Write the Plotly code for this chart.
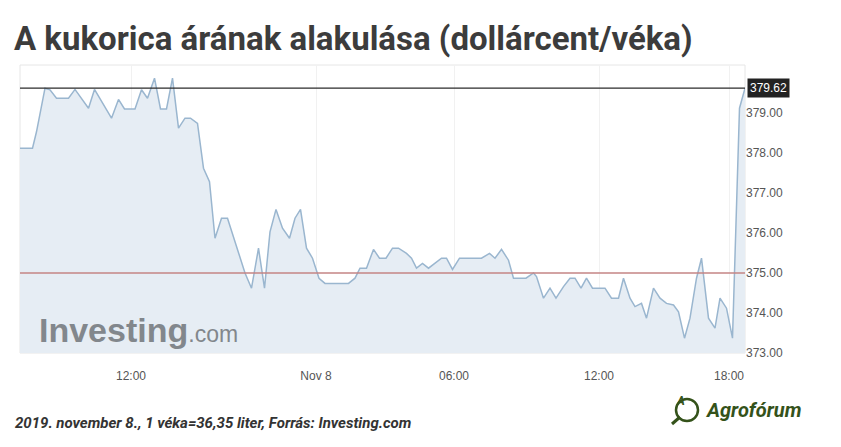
import plotly.graph_objects as go

# time index (sample units along the trading-time axis) and price values
t = [0, 2.5, 3.3, 5, 6, 7.3, 9.7, 11, 13.7, 14.9, 18.3, 19.7, 20.9, 23, 24.3, 25.5,
     26.9, 28.1, 29.3, 30.5, 31.7, 33, 34.1, 35.5, 36.7, 37.9, 39, 40.3, 41.5, 45,
     46.3, 47.7, 48.9, 50, 51.2, 52.5, 53.9, 55, 56.1, 57.3, 58.5, 59.8, 61, 65.7,
     67, 68, 69.3, 70.7, 71.9, 73.2, 74.5, 75.7, 77.3, 78.3, 79.3, 80.5, 81.7, 83,
     84.3, 85.3, 86.5, 87.9, 92.3, 93.9, 95, 96.3, 97.7, 98.7, 101.2, 102.7, 103.3,
     104.7, 106, 107.2, 108.7, 110, 111, 112.2, 113.3, 114.5, 117, 118.3, 119.7,
     120.7, 122, 123, 124.3, 125.3, 126.7, 128, 129.3, 130.7, 131.7, 132.9, 134,
     135.3, 136.3, 137.7, 139, 140, 141.3, 142.5, 143.9, 145]
price = [378.12, 378.12, 378.53, 379.62, 379.58, 379.37, 379.37, 379.59, 379.12, 379.59,
         378.87, 379.34, 379.10, 379.10, 379.58, 379.37, 379.87, 379.10, 379.10, 379.87,
         378.62, 378.87, 378.87, 378.74, 377.62, 377.28, 375.87, 376.37, 376.37, 375.00,
         374.62, 375.62, 374.62, 376.03, 376.59, 376.12, 375.87, 376.37, 376.59, 375.62,
         375.37, 374.87, 374.74, 374.74, 374.87, 375.12, 375.12, 375.59, 375.37, 375.37,
         375.62, 375.62, 375.49, 375.37, 375.12, 375.24, 375.12, 375.24, 375.37, 375.37,
         375.09, 375.37, 375.37, 375.49, 375.37, 375.59, 375.32, 374.87, 374.87, 375.00,
         374.91, 374.37, 374.62, 374.37, 374.66, 374.87, 374.87, 374.62, 374.87, 374.62,
         374.62, 374.37, 374.37, 374.87, 374.37, 374.16, 374.24, 373.87, 374.62, 374.37,
         374.24, 374.20, 374.03, 373.37, 373.87, 374.87, 375.37, 373.87, 373.62, 374.37,
         374.12, 373.37, 379.12, 379.62]

tick_pos = [22.2, 59.2, 86.8, 115.8, 141.8]
tick_labels = ["12:00", "Nov 8", "06:00", "12:00", "18:00"]
y_ticks = [373, 374, 375, 376, 377, 378, 379]
last_price = 379.62
ref_price = 375.00

title_text = "A kukorica árának alakulása (dollárcent/véka)"
footer_text = "2019. november 8., 1 véka=36,35 liter, Forrás: Investing.com"

# page has an 8px body margin; figure is sized/offset to compensate
FW, FH, OFF = 833, 439, 8
PL, PR, PT, PB = 20, 745, 65, 353  # plot area in page pixels


def px(xp):
    return (xp - PL) / (PR - PL)


def py(yp):
    return (PB - yp) / (PB - PT)


fig = go.Figure()
fig.add_trace(go.Scatter(
    x=t, y=price, mode="lines",
    line=dict(color="#9ab6cf", width=1.5),
    fill="tozeroy", fillcolor="#e6edf4",
    hoverinfo="skip", showlegend=False,
))

fig.add_hline(y=last_price, line=dict(color="#2b2b2b", width=1.3))
fig.add_hline(y=ref_price, line=dict(color="#c48585", width=1.3))

# plot border
fig.add_shape(type="rect", xref="paper", yref="paper", x0=0, x1=1, y0=0, y1=1,
              line=dict(color="#e6e6e6", width=1), layer="below")

# last price label
fig.add_annotation(x=1, xref="paper", y=last_price, yref="y", xanchor="left",
                   text=f"{last_price:.2f}", showarrow=False,
                   bgcolor="#222222", font=dict(color="white", size=12, family="Arial"),
                   borderpad=2, xshift=2)

# Investing.com watermark
fig.add_annotation(x=px(37), xref="paper", y=py(330), yref="paper", xanchor="left", yanchor="middle",
                   text="<b>Investing</b><span style='font-size:23px'>.com</span>",
                   showarrow=False,
                   font=dict(color="#82878c", size=34, family="Arial"))

fig.update_layout(
    width=FW, height=FH,
    margin=dict(l=PL - OFF, r=FW - (PR - OFF), t=PT - OFF, b=FH - (PB - OFF)),
    paper_bgcolor="white", plot_bgcolor="white",
    title=dict(text=f"<b>{title_text}</b>", x=(14 - OFF) / FW, xanchor="left",
               y=1 - (38 - OFF) / FH, yanchor="middle",
               font=dict(family="Roboto", size=33, color="#3c3c3c")),
    xaxis=dict(range=[0, 145], tickvals=tick_pos, ticktext=tick_labels,
               showgrid=True, gridcolor="#f1f1f1", zeroline=False, showline=False,
               ticks="", ticklabelstandoff=14,
               tickfont=dict(family="Arial", size=12, color="#555555"),
               fixedrange=True),
    yaxis=dict(range=[373, 380.2], side="right", tickvals=y_ticks,
               tickformat=".2f", showgrid=False, zeroline=False, showline=False,
               ticks="", tickfont=dict(family="Arial", size=12, color="#555555"),
               fixedrange=True),
)

# footer
fig.add_annotation(x=px(13), xref="paper", y=py(423), yref="paper",
                   xanchor="left", yanchor="middle", showarrow=False,
                   text=f"<b><i>{footer_text}</i></b>",
                   font=dict(family="Roboto", size=15, color="#333333"))

# Agrofórum logo
green = "#34521a"
fig.add_shape(type="circle", xref="paper", yref="paper",
              x0=px(676), x1=px(698), y0=py(421), y1=py(399),
              line=dict(color=green, width=2.5))
fig.add_shape(type="line", xref="paper", yref="paper",
              x0=px(672), x1=px(680), y0=py(424), y1=py(417),
              line=dict(color=green, width=3))
fig.add_annotation(x=px(687), xref="paper", y=py(410), yref="paper",
                   text="<b><i>A</i></b>", showarrow=False,
                   font=dict(family="Roboto", size=12, color=green))
fig.add_annotation(x=px(703), xref="paper", y=py(410), yref="paper",
                   xanchor="left", yanchor="middle", showarrow=False,
                   text="<b><i>Agrofórum</i></b>",
                   font=dict(family="Roboto", size=20, color=green))

fig.write_html("out.html")
